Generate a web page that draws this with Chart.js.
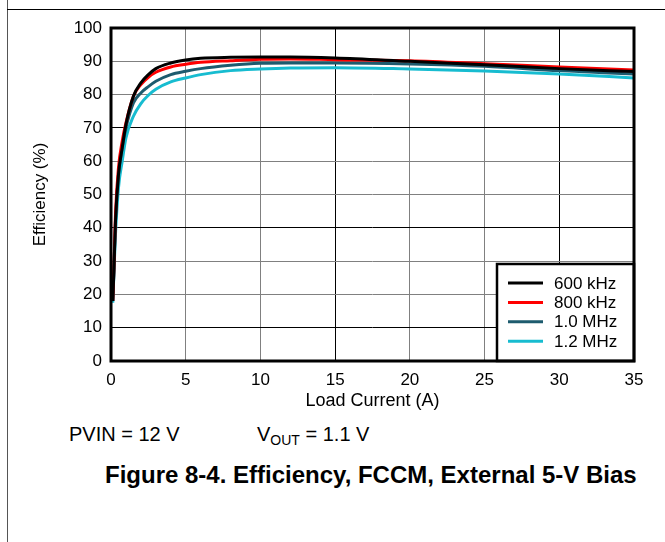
<!DOCTYPE html>
<html lang="en">
<head>
  <meta charset="UTF-8" />
  <title>Efficiency, FCCM, External 5-V Bias</title>
  <script src="https://cdn.jsdelivr.net/npm/chart.js"></script>
  <style>
    body { margin: 0; width: 665px; height: 542px; background: #fff; position: relative; overflow: hidden; font-family: 'Liberation Sans', Arial, sans-serif; color: #000; }
    #frameV { position: absolute; left: 7px; top: 0; width: 1px; height: 542px; background: #555; }
    #frameH { position: absolute; left: 7px; top: 9px; width: 658px; height: 1px; background: #000; }
    #wrap { position: absolute; left: 0; top: 0; width: 665px; height: 420px; }
    .note { position: absolute; font-size: 20px; line-height: 20px; white-space: nowrap; }
    .note sub { font-size: 14px; vertical-align: -4px; line-height: 0; }
    #caption { position: absolute; left: 105px; top: 463px; font-size: 24px; line-height: 24px; font-weight: bold; white-space: nowrap; }
  </style>
</head>
<body>
  <div id="frameV"></div>
  <div id="frameH"></div>
  <div id="wrap"><canvas id="effChart"></canvas></div>
  <div class="note" style="left:69px; top:424px;">PVIN = 12 V</div>
  <div class="note" style="left:257px; top:424px;">V<sub>OUT</sub> = 1.1 V</div>
  <div id="caption">Figure 8-4. Efficiency, FCCM, External 5-V Bias</div>

  <script>
    // load current (A), shared by all curves
    const loadCurrent = [0.12, 0.2, 0.3, 0.5, 0.75, 1, 1.5, 2, 2.5, 3, 4, 5, 6, 8, 10, 12, 15, 20, 25, 30, 35];

    // efficiency (%)
    const eff600k = [18, 28, 42, 56, 64, 71, 79.5, 83.5, 86, 87.8, 89.5, 90.4, 90.9, 91.2, 91.3, 91.3, 91.0, 90.0, 89.0, 87.8, 86.9];
    const eff800k = [18, 29, 44, 58, 66, 71.5, 79.5, 83, 85.2, 86.7, 88.3, 89.1, 89.7, 90.2, 90.6, 90.7, 90.5, 90.2, 89.3, 88.3, 87.4];
    const eff1M   = [18, 28, 42, 56, 64, 70, 77.5, 80.5, 82.4, 84, 86, 87, 87.8, 88.8, 89.4, 89.5, 89.5, 89.2, 88.5, 87.2, 86.2];
    const eff1M2  = [17.5, 27, 38, 52, 60, 67, 73.5, 77.3, 79.8, 81.6, 83.8, 85, 86, 87.2, 87.7, 88, 88.1, 87.7, 87.1, 86.2, 85];

    const seriesLabels = ['600 kHz', '800 kHz', '1.0 MHz', '1.2 MHz'];
    const seriesColors = ['#000000', '#ff0000', '#1d5b6e', '#17bcd0'];
    const xTicks = [0, 5, 10, 15, 20, 25, 30, 35];
    const yTicks = [0, 10, 20, 30, 40, 50, 60, 70, 80, 90, 100];

    const FONT = "'Liberation Sans', Arial, sans-serif";
    Chart.defaults.font.family = FONT;
    Chart.defaults.color = '#000';

    function toPoints(ys) {
      return loadCurrent.map((x, i) => ({ x: x, y: ys[i] }));
    }

    // thick plot border + boxed legend in the lower right corner
    const framePlugin = {
      id: 'framePlugin',
      afterDatasetsDraw(chart) {
        const { ctx, chartArea: a } = chart;
        ctx.save();

        const bw = 137, bh = 97;
        const bx = a.right - bw, by = a.bottom - bh;
        ctx.fillStyle = '#fff';
        ctx.fillRect(bx, by, bw, bh);
        ctx.lineWidth = 2.5;
        ctx.strokeStyle = '#000';
        ctx.strokeRect(bx, by, bw, bh);

        ctx.font = '17px ' + FONT;
        ctx.textBaseline = 'middle';
        ctx.textAlign = 'left';
        chart.data.datasets.forEach((ds, i) => {
          const y = by + 19 + i * 19.4;
          ctx.strokeStyle = ds.borderColor;
          ctx.lineWidth = 3;
          ctx.beginPath();
          ctx.moveTo(bx + 11, y);
          ctx.lineTo(bx + 46, y);
          ctx.stroke();
          ctx.fillStyle = '#000';
          ctx.fillText(ds.label, bx + 57, y + 1);
        });

        ctx.lineWidth = 3;
        ctx.strokeStyle = '#000';
        ctx.strokeRect(a.left, a.top, a.right - a.left, a.bottom - a.top);
        ctx.restore();
      }
    };

    const ctx = document.getElementById('effChart').getContext('2d');
    new Chart(ctx, {
      type: 'line',
      data: {
        datasets: [eff600k, eff800k, eff1M, eff1M2].map((ys, i) => ({
          label: seriesLabels[i],
          data: toPoints(ys),
          borderColor: seriesColors[i],
          backgroundColor: seriesColors[i],
          borderWidth: 3,
          pointRadius: 0,
          cubicInterpolationMode: 'monotone',
          fill: false
        }))
      },
      options: {
        responsive: true,
        maintainAspectRatio: false,
        animation: false,
        layout: { padding: { left: 0, top: 28, right: 31, bottom: 0 } },
        plugins: {
          legend: { display: false },
          tooltip: { enabled: false }
        },
        scales: {
          x: {
            type: 'linear',
            min: 0,
            max: 35,
            afterBuildTicks(s) { s.ticks = xTicks.map(v => ({ value: v })); },
            afterFit(s) { s.height = 59; },
            ticks: { font: { size: 17 }, padding: 9, color: '#000' },
            grid: {
              drawTicks: false,
              lineWidth: 1,
              color: c => (c.tick && c.tick.value % 15 === 0) ? '#000' : '#808080'
            },
            border: { display: false },
            title: { display: true, text: 'Load Current (A)', font: { size: 18 }, color: '#000', padding: { top: 4, bottom: 8 } }
          },
          y: {
            min: 0,
            max: 100,
            afterBuildTicks(s) { s.ticks = yTicks.map(v => ({ value: v })); },
            afterFit(s) { s.width = 111; },
            ticks: { font: { size: 17 }, padding: 9, color: '#000' },
            grid: {
              drawTicks: false,
              lineWidth: 1,
              color: c => (c.tick && (c.tick.value - 10) % 30 === 0) ? '#000' : '#808080'
            },
            border: { display: false },
            title: { display: true, text: 'Efficiency (%)', font: { size: 17 }, color: '#000', padding: { top: 30, bottom: 4 } }
          }
        }
      },
      plugins: [framePlugin]
    });
  </script>
</body>
</html>
